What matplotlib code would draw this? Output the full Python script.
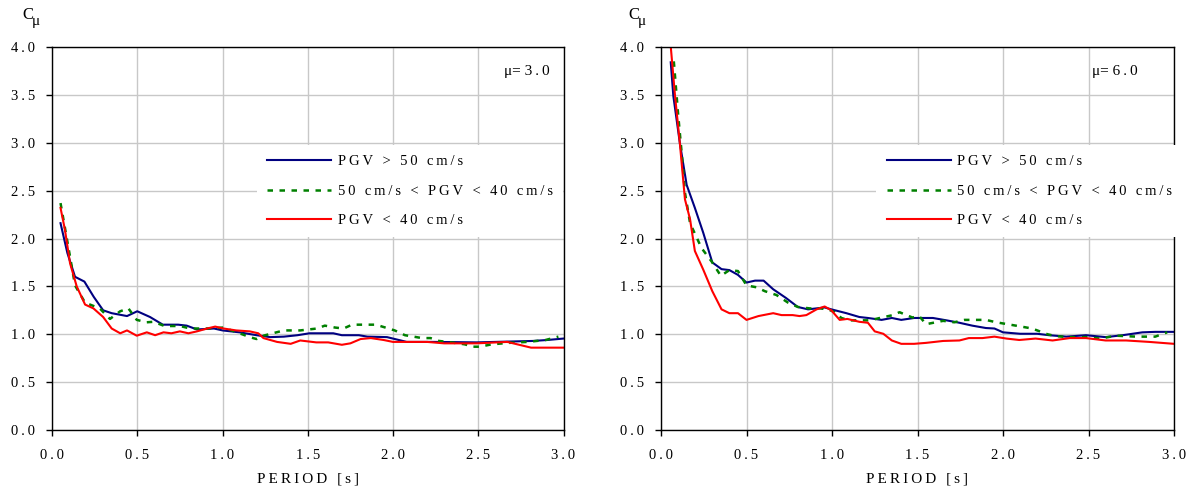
import matplotlib
matplotlib.use("Agg")
import matplotlib.pyplot as plt
from matplotlib.ticker import FuncFormatter

plt.rcParams['font.family'] = ['Liberation Serif', 'DejaVu Serif']

# ---- data: mu = 3.0 ----
t_hi_3 = [0.05, 0.09, 0.135, 0.19, 0.245, 0.30, 0.35, 0.44, 0.50, 0.575, 0.65, 0.74, 0.79, 0.85,
          0.95, 1.0, 1.10, 1.20, 1.28, 1.36, 1.44, 1.51, 1.65, 1.70, 1.80, 1.85, 1.965, 2.08,
          2.24, 2.49, 2.71, 2.82, 2.905, 3.0]
c_hi_3 = [2.16, 1.85, 1.60, 1.55, 1.39, 1.25, 1.22, 1.19, 1.24, 1.18, 1.10, 1.10, 1.09, 1.05,
          1.06, 1.04, 1.02, 0.99, 0.97, 0.975, 0.99, 1.01, 1.01, 0.99, 0.99, 0.975, 0.97, 0.92,
          0.92, 0.915, 0.925, 0.93, 0.94, 0.955]

t_mid_3 = [0.05, 0.096, 0.135, 0.194, 0.28, 0.34, 0.40, 0.448, 0.497, 0.556, 0.595, 0.66, 0.75,
           0.81, 0.91, 1.006, 1.10, 1.16, 1.20, 1.24, 1.36, 1.456, 1.555, 1.60, 1.66, 1.71, 1.76,
           1.90, 1.955, 2.01, 2.07, 2.17, 2.22, 2.27, 2.32, 2.42, 2.47, 2.51, 2.58, 2.68, 2.79,
           2.895, 2.97]
c_mid_3 = [2.37, 1.91, 1.51, 1.33, 1.27, 1.16, 1.24, 1.27, 1.15, 1.125, 1.13, 1.086, 1.086,
           1.06, 1.06, 1.07, 1.01, 0.97, 0.95, 0.985, 1.04, 1.04, 1.06, 1.09, 1.07, 1.06, 1.10,
           1.10, 1.07, 1.04, 0.99, 0.96, 0.96, 0.93, 0.92, 0.895, 0.87, 0.87, 0.895, 0.91, 0.92,
           0.94, 0.975]

t_lo_3 = [0.05, 0.076, 0.106, 0.145, 0.194, 0.243, 0.30, 0.35, 0.40, 0.44, 0.497, 0.556, 0.605,
          0.654, 0.70, 0.75, 0.80, 0.85, 0.91, 0.957, 1.006, 1.08, 1.16, 1.21, 1.24, 1.32, 1.40,
          1.456, 1.55, 1.62, 1.70, 1.75, 1.81, 1.87, 1.945, 2.0, 2.20, 2.30, 2.49, 2.67, 2.81, 3.0]
c_lo_3 = [2.32, 2.09, 1.74, 1.50, 1.31, 1.27, 1.18, 1.06, 1.01, 1.04, 0.985, 1.02, 0.99,
          1.02, 1.01, 1.03, 1.01, 1.03, 1.06, 1.08, 1.06, 1.04, 1.03, 1.01, 0.96, 0.92, 0.90,
          0.935, 0.915, 0.915, 0.89, 0.905, 0.95, 0.96, 0.94, 0.92, 0.92, 0.905, 0.905, 0.92,
          0.86, 0.86]

# ---- data: mu = 6.0 ----
t_hi_6 = [0.057, 0.072, 0.11, 0.15, 0.198, 0.247, 0.30, 0.354, 0.40, 0.45, 0.50, 0.55, 0.60,
          0.656, 0.73, 0.80, 0.86, 0.957, 0.996, 1.084, 1.16, 1.21, 1.29, 1.35, 1.405, 1.48,
          1.59, 1.67, 1.745, 1.82, 1.90, 1.95, 2.0, 2.10, 2.20, 2.27, 2.37, 2.485, 2.60, 2.70,
          2.815, 2.89, 3.0]
c_hi_6 = [3.84, 3.49, 3.0, 2.56, 2.32, 2.06, 1.75, 1.68, 1.67, 1.62, 1.54, 1.56, 1.56,
          1.47, 1.38, 1.285, 1.26, 1.28, 1.26, 1.22, 1.18, 1.17, 1.15, 1.17, 1.15, 1.17,
          1.17, 1.145, 1.12, 1.09, 1.065, 1.06, 1.02, 1.005, 1.005, 0.99, 0.975, 0.99, 0.97, 0.99,
          1.02, 1.025, 1.025]

t_mid_6 = [0.075, 0.10, 0.12, 0.14, 0.17, 0.237, 0.296, 0.35, 0.40, 0.45, 0.50, 0.56, 0.607,
           0.675, 0.743, 0.80, 0.87, 0.93, 0.977, 1.016, 1.055, 1.10, 1.22, 1.28, 1.356, 1.395,
           1.47, 1.51, 1.55, 1.65, 1.715, 1.775, 1.90, 1.96, 2.075, 2.17, 2.26, 2.31, 2.39,
           2.485, 2.57, 2.66, 2.78, 2.89, 2.96]
c_mid_6 = [3.85, 3.30, 2.91, 2.48, 2.16, 1.90, 1.76, 1.61, 1.67, 1.66, 1.51, 1.49, 1.45,
           1.41, 1.33, 1.285, 1.27, 1.27, 1.26, 1.23, 1.17, 1.145, 1.145, 1.17, 1.20, 1.23,
           1.175, 1.19, 1.105, 1.14, 1.125, 1.15, 1.15, 1.125, 1.09, 1.06, 1.0, 0.98, 0.97,
           0.97, 0.955, 0.985, 0.975, 0.975, 1.02]

t_lo_6 = [0.05, 0.082, 0.11, 0.14, 0.17, 0.198, 0.247, 0.30, 0.354, 0.40, 0.45, 0.50, 0.57,
          0.656, 0.705, 0.77, 0.81, 0.85, 0.91, 0.957, 0.996, 1.045, 1.09, 1.16, 1.21, 1.25,
          1.30, 1.35, 1.405, 1.48, 1.55, 1.65, 1.745, 1.80, 1.88, 1.95, 2.02, 2.095, 2.19,
          2.29, 2.39, 2.485, 2.60, 2.72, 2.855, 3.0]
c_lo_6 = [4.15, 3.49, 3.0, 2.41, 2.2, 1.87, 1.675, 1.45, 1.26, 1.22, 1.22, 1.15, 1.19,
          1.22, 1.20, 1.20, 1.19, 1.20, 1.26, 1.29, 1.25, 1.15, 1.16, 1.13, 1.12, 1.03,
          1.005, 0.935, 0.90, 0.90, 0.91, 0.93, 0.935, 0.96, 0.96, 0.975, 0.955, 0.94, 0.955,
          0.935, 0.96, 0.96, 0.935, 0.935, 0.92, 0.90]

labels = ["PGV > 50 cm/s", "50 cm/s < PGV < 40 cm/s", "PGV < 40 cm/s"]
ticks = [0.0, 0.5, 1.0, 1.5, 2.0, 2.5, 3.0, 3.5, 4.0]


def spaced(s):
    return "\u2009".join(s)


fig = plt.figure(figsize=(11.93, 4.91), dpi=100)
ax1 = fig.add_axes([52 / 1193, 1 - 430 / 491, 511.5 / 1193, 383 / 491])
ax2 = fig.add_axes([661 / 1193, 1 - 430 / 491, 513 / 1193, 383 / 491])

panels = [
    (ax1, "3.0", (t_hi_3, c_hi_3), (t_mid_3, c_mid_3), (t_lo_3, c_lo_3), 0.884, 0.40, 22),
    (ax2, "6.0", (t_hi_6, c_hi_6), (t_mid_6, c_mid_6), (t_lo_6, c_lo_6), 0.840, 0.42, 628),
]

for ax, mu, hi, mid, lo, mux, legx, cx in panels:
    ax.plot(hi[0], hi[1], color="#000080", lw=1.5, label=spaced(labels[0]))
    ax.plot(mid[0], mid[1], color="#008000", lw=1.8, linestyle=(0, (2.2, 2.6)),
            label=spaced(labels[1]))
    ax.plot(lo[0], lo[1], color="#ff0000", lw=1.5, label=spaced(labels[2]))

    ax.set_xlim(0, 3.0)
    ax.set_ylim(0, 4.0)
    ax.set_xticks(ticks[:7])
    ax.set_yticks(ticks)
    fmt = FuncFormatter(lambda v, p: spaced(f"{v:.1f}"))
    ax.xaxis.set_major_formatter(fmt)
    ax.yaxis.set_major_formatter(fmt)
    ax.tick_params(direction="out", length=4, width=1, labelsize=10.5, color="black")
    ax.tick_params(axis="y", pad=8)
    ax.tick_params(axis="x", pad=10)
    ax.grid(True, color="#c8c8c8", lw=1)
    ax.set_axisbelow(True)
    for sp in ax.spines.values():
        sp.set_color("black")
        sp.set_linewidth(1)

    ax.set_xlabel(spaced("PERIOD [s]"), fontsize=11, labelpad=7)
    ax.text(mux, 0.935, "\u03bc= " + spaced(mu), transform=ax.transAxes, fontsize=11,
            va="center", ha="left")

    leg = ax.legend(loc="upper left", bbox_to_anchor=(legx, 0.745), frameon=True,
                    fontsize=10.5, handlelength=4.4, handletextpad=0.45, labelspacing=1.12,
                    borderpad=0.7, borderaxespad=0)
    leg.get_frame().set_facecolor("white")
    leg.get_frame().set_edgecolor("none")
    leg.get_frame().set_alpha(1)

    fig.text(cx / 1193, 1 - 15 / 491, "C", fontsize=12, ha="left", va="center")
    fig.text((cx + 10) / 1193, 1 - 21 / 491, "\u03bc", fontsize=11, ha="left", va="center")

fig.savefig("out.png", dpi=100)
